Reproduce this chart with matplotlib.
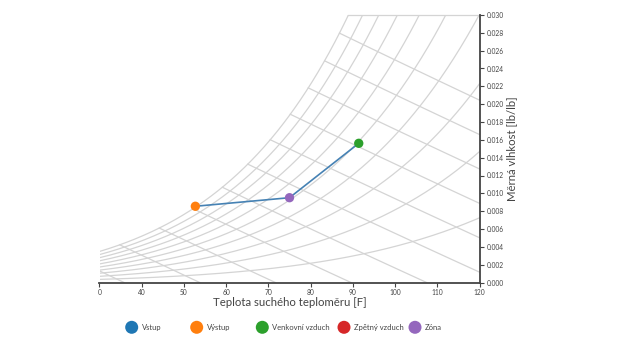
import numpy as np
import matplotlib
matplotlib.use("Agg")
import matplotlib.pyplot as plt

# ===== DATA =====
point_names = ["Výstup", "Zóna", "Venkovní vzduch"]
point_temp = [52.7, 75.0, 91.4]          # dry bulb [F]
point_hum = [0.00855, 0.00951, 0.01561]  # humidity ratio [lb/lb]
point_colors = ["#ff7f0e", "#9467bd", "#2ca02c"]

legend_labels = ["Vstup", "Výstup", "Venkovní vzduch", "Zpětný vzduch", "Zóna"]
legend_colors = ["#1f77b4", "#ff7f0e", "#2ca02c", "#d62728", "#9467bd"]

rh_levels = [0.1, 0.2, 0.3, 0.4, 0.5, 0.6, 0.7, 0.8, 0.9, 1.0]
enthalpy_kj = [20, 30, 40, 50, 60, 70, 80, 90, 100, 110, 120]

x_ticks = [30, 40, 50, 60, 70, 80, 90, 100, 110, 120]
x_ticklabels = ["0", "40", "50", "60", "70", "80", "90", "100", "110", "120"]
y_ticks = np.arange(0, 0.0301, 0.002)

P_ATM = 14.696
W_MAX = 0.030
T_MIN, T_MAX = 30, 120


# ===== PSYCHRO =====
def p_sat(t_f):
    t = np.asarray(t_f, dtype=float) + 459.67
    ln_p = (-1.0440397e4 / t - 1.1294650e1 - 2.7022355e-2 * t
            + 1.2890360e-5 * t ** 2 - 2.4780681e-9 * t ** 3 + 6.5459673 * np.log(t))
    return np.exp(ln_p)


def hum_ratio(t_f, rh):
    pw = rh * p_sat(t_f)
    return 0.621945 * pw / (P_ATM - pw)


def enthalpy(t_f, w):
    return 0.240 * t_f + w * (1061 + 0.444 * t_f)


grid_color = "#d4d4d4"
axis_color = "#444444"
text_color = "#444444"
plt.rcParams["font.family"] = ["Lato", "DejaVu Sans"]

fig = plt.figure(figsize=(6.22, 3.5), dpi=100)
ax = fig.add_axes([99.5 / 622, 67.5 / 350, 380 / 622, 267.5 / 350])

# relative humidity curves
t_dense = np.linspace(T_MIN, T_MAX, 400)
for rh in rh_levels:
    ax.plot(t_dense, hum_ratio(t_dense, rh), color=grid_color, lw=0.9, zorder=1)

# enthalpy lines, from saturation down to W = 0
t_wide = np.linspace(0, 130, 2000)
h_sat = enthalpy(t_wide, hum_ratio(t_wide, 1.0))
for h_kj in enthalpy_kj:
    h = h_kj / 2.326
    t_start = np.interp(h, h_sat, t_wide)
    t_end = h / 0.240
    tt = np.linspace(t_start, t_end, 50)
    ww = (h - 0.240 * tt) / (1061 + 0.444 * tt)
    ax.plot(tt, ww, color=grid_color, lw=0.9, zorder=1)

# top boundary right of saturation
w_sat = hum_ratio(t_wide, 1.0)
t_top = np.interp(W_MAX, w_sat, t_wide)
ax.plot([t_top, T_MAX], [W_MAX, W_MAX], color=grid_color, lw=0.9, zorder=1, clip_on=False)

# process line + points
ax.plot(point_temp, point_hum, color="#4682b4", lw=1.2, zorder=2)
ax.scatter(point_temp, point_hum, s=45, c=point_colors, zorder=3, linewidths=0)

# ===== AXES =====
ax.set_xlim(T_MIN, T_MAX)
ax.set_ylim(0, W_MAX)
for side in ["top", "left"]:
    ax.spines[side].set_visible(False)
for side in ["bottom", "right"]:
    ax.spines[side].set_color(axis_color)
    ax.spines[side].set_linewidth(1.3)

ax.yaxis.tick_right()
ax.yaxis.set_label_position("right")
ax.set_xticks(x_ticks)
ax.set_xticklabels(x_ticklabels)
ax.set_yticks(y_ticks)
ax.set_yticklabels([f"{v:.3f}" for v in y_ticks])
ax.tick_params(axis="both", labelsize=4.8, colors=axis_color, labelcolor=text_color,
               length=3, width=0.8, pad=2)

ax.set_xlabel("Teplota suchého teploměru [F]", fontsize=8.2, color=text_color, labelpad=0.5)
ax.set_ylabel("Měrná vlhkost [lb/lb]", fontsize=8.2, color=text_color, labelpad=2)

# ===== LEGEND =====
legend_x = [131.7, 196.7, 262.3, 344, 415]
legend_y = 1 - 327.3 / 350
for lx, lab, col in zip(legend_x, legend_labels, legend_colors):
    fig.patches.append(matplotlib.patches.Ellipse(
        (lx / 622, legend_y), 13 / 622, 13 / 350, transform=fig.transFigure,
        facecolor=col, edgecolor="none"))
    fig.text((lx + 10) / 622, legend_y, lab, fontsize=5.5, color=text_color,
             va="center", ha="left")

fig.savefig("out.png", dpi=100)
